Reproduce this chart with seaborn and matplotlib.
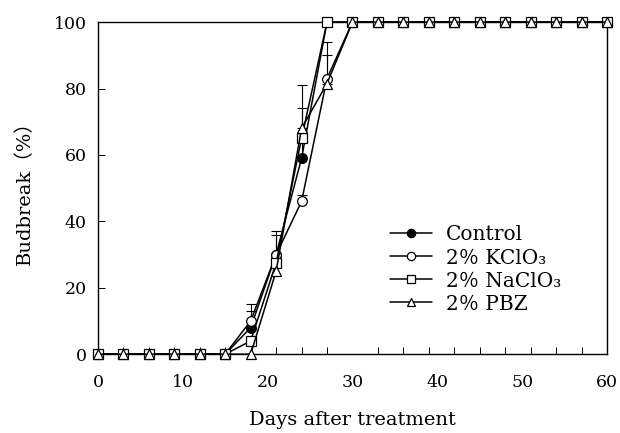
import numpy as np
import pandas as pd
import seaborn as sns
import matplotlib
matplotlib.use("Agg")
import matplotlib.pyplot as plt
from matplotlib.ticker import MultipleLocator

days = [0, 3, 6, 9, 12, 15, 18, 21, 24, 27, 30, 33, 36, 39, 42, 45, 48, 51, 54, 57, 60]
control = [0, 0, 0, 0, 0, 0, 8, 30, 59, 100, 100, 100, 100, 100, 100, 100, 100, 100, 100, 100, 100]
kclo3 = [0, 0, 0, 0, 0, 0, 10, 30, 46, 83, 100, 100, 100, 100, 100, 100, 100, 100, 100, 100, 100]
naclo3 = [0, 0, 0, 0, 0, 0, 4, 27.5, 65, 100, 100, 100, 100, 100, 100, 100, 100, 100, 100, 100, 100]
pbz = [0, 0, 0, 0, 0, 0, 0, 25, 68, 81.5, 100, 100, 100, 100, 100, 100, 100, 100, 100, 100, 100]

# upper error bars (day, series value, top value)
err_days = [18, 21, 24, 18, 24, 27, 21, 24, 27]
err_vals = [8, 30, 59, 10, 46, 83, 27.5, 68, 81.5]
err_tops = [13, 37, 74, 15, 48, 94, 36, 81, 90]

labels = ["Control", "2％ KClO₃", "2％ NaClO₃", "2％ PBZ"]

sns.set_style("ticks")
plt.rcParams['font.family'] = ['DejaVu Serif', 'Noto Sans CJK JP']
plt.rcParams['text.color'] = 'black'
plt.rcParams['axes.labelcolor'] = 'black'
plt.rcParams['xtick.color'] = 'black'
plt.rcParams['ytick.color'] = 'black'

fig = plt.figure(figsize=(6.2, 4.33), dpi=100)
ax = fig.add_axes([0.158, 0.182, 0.821, 0.767])

low = np.zeros(len(err_vals))
up = np.array(err_tops) - np.array(err_vals)
ax.errorbar(err_days, err_vals, yerr=[low, up], fmt='none', ecolor='black',
            elinewidth=0.8, capsize=3.5, capthick=0.8, zorder=1)

series = [control, kclo3, naclo3, pbz]
markers = ['o', 'o', 's', '^']
faces = ['black', 'white', 'white', 'white']
for vals, m, fc, lab in zip(series, markers, faces, labels):
    sns.lineplot(x=days, y=vals, ax=ax, color='black', linewidth=1.1,
                 marker=m, markersize=7, markerfacecolor=fc,
                 markeredgecolor='black', markeredgewidth=0.9,
                 label=lab, zorder=3, clip_on=False)

ax.set_xlim(0, 60)
ax.set_ylim(0, 100)
ax.set_xticks([0, 10, 20, 30, 40, 50, 60])
ax.xaxis.set_minor_locator(MultipleLocator(3))
ax.set_yticks([0, 20, 40, 60, 80, 100])
ax.tick_params(axis='x', which='major', length=0, pad=14, labelsize=12.5)
ax.tick_params(axis='x', which='minor', direction='in', length=5, width=0.7)
ax.tick_params(axis='y', direction='in', length=5, width=0.7, pad=8, labelsize=12.5)
for s in ax.spines.values():
    s.set_linewidth(1.0)
    s.set_color('black')

ax.set_xlabel("Days after treatment", fontsize=14, labelpad=15)
ax.set_ylabel("Budbreak（%）", fontsize=14, labelpad=14)

leg = ax.legend(loc='center left', bbox_to_anchor=(0.557, 0.255), frameon=False,
                fontsize=14.5, handlelength=2.1, handletextpad=0.7,
                labelspacing=0.2, borderaxespad=0, markerscale=0.85)

fig.savefig("out.png", dpi=100)
